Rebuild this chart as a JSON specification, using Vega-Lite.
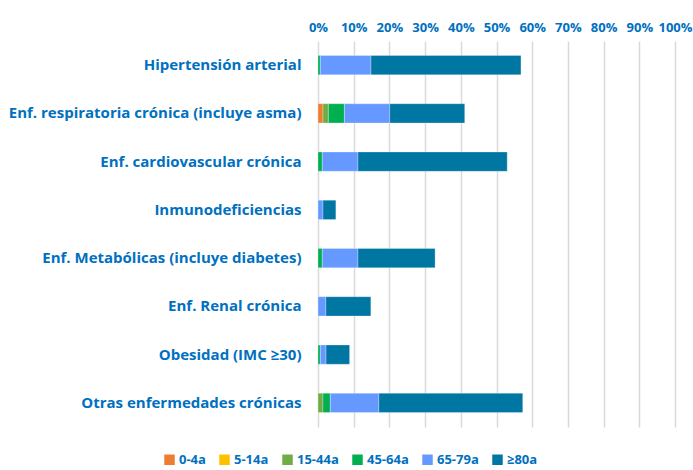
{
  "$schema": "https://vega.github.io/schema/vega-lite/v6.json",
  "width": 357,
  "height": 386,
  "autosize": {"type": "none"},
  "padding": {"left": 318, "top": 41, "right": 18, "bottom": 43},
  "background": "white",
  "config": {
    "view": {"stroke": null},
    "font": "Open Sans"
  },
  "data": {
    "values": [
      {"cat": "Hipertensión arterial", "age": "45-64a", "k": 4, "v": 0.65},
      {"cat": "Hipertensión arterial", "age": "65-79a", "k": 5, "v": 14.2},
      {"cat": "Hipertensión arterial", "age": "≥80a", "k": 6, "v": 42.0},
      {"cat": "Enf. respiratoria crónica (incluye asma)", "age": "0-4a", "k": 1, "v": 1.4},
      {"cat": "Enf. respiratoria crónica (incluye asma)", "age": "15-44a", "k": 3, "v": 1.5},
      {"cat": "Enf. respiratoria crónica (incluye asma)", "age": "45-64a", "k": 4, "v": 4.5},
      {"cat": "Enf. respiratoria crónica (incluye asma)", "age": "65-79a", "k": 5, "v": 12.7},
      {"cat": "Enf. respiratoria crónica (incluye asma)", "age": "≥80a", "k": 6, "v": 21.0},
      {"cat": "Enf. cardiovascular crónica ", "age": "45-64a", "k": 4, "v": 1.2},
      {"cat": "Enf. cardiovascular crónica ", "age": "65-79a", "k": 5, "v": 10.0},
      {"cat": "Enf. cardiovascular crónica ", "age": "≥80a", "k": 6, "v": 41.8},
      {"cat": "Inmunodeficiencias", "age": "65-79a", "k": 5, "v": 1.4},
      {"cat": "Inmunodeficiencias", "age": "≥80a", "k": 6, "v": 3.6},
      {"cat": "Enf. Metabólicas (incluye diabetes)", "age": "45-64a", "k": 4, "v": 1.2},
      {"cat": "Enf. Metabólicas (incluye diabetes)", "age": "65-79a", "k": 5, "v": 10.0},
      {"cat": "Enf. Metabólicas (incluye diabetes)", "age": "≥80a", "k": 6, "v": 21.6},
      {"cat": "Enf. Renal crónica", "age": "65-79a", "k": 5, "v": 2.2},
      {"cat": "Enf. Renal crónica", "age": "≥80a", "k": 6, "v": 12.6},
      {"cat": "Obesidad (IMC ≥30)", "age": "45-64a", "k": 4, "v": 0.65},
      {"cat": "Obesidad (IMC ≥30)", "age": "65-79a", "k": 5, "v": 1.6},
      {"cat": "Obesidad (IMC ≥30)", "age": "≥80a", "k": 6, "v": 6.6},
      {"cat": "Otras enfermedades crónicas", "age": "15-44a", "k": 3, "v": 1.4},
      {"cat": "Otras enfermedades crónicas", "age": "45-64a", "k": 4, "v": 2.05},
      {"cat": "Otras enfermedades crónicas", "age": "65-79a", "k": 5, "v": 13.6},
      {"cat": "Otras enfermedades crónicas", "age": "≥80a", "k": 6, "v": 40.3}
    ]
  },
  "mark": {"type": "bar", "stroke": "#ffffff", "strokeOpacity": 0.35, "strokeWidth": 0.8},
  "encoding": {
    "y": {
      "field": "cat",
      "type": "nominal",
      "sort": null,
      "scale": {"paddingInner": 0.6, "paddingOuter": 0.3},
      "axis": {
        "title": null,
        "domain": false,
        "ticks": false,
        "labelPadding": 17,
        "labelFontSize": 15,
        "labelFontWeight": "bold",
        "labelColor": "#0070C0",
        "labelLimit": 330
      }
    },
    "x": {
      "field": "v",
      "type": "quantitative",
      "stack": "zero",
      "scale": {"domain": [0, 100], "nice": false},
      "axis": {
        "orient": "top",
        "title": null,
        "values": [0, 10, 20, 30, 40, 50, 60, 70, 80, 90, 100],
        "labelExpr": "datum.value + '%'",
        "labelOverlap": false,
        "labelFlush": false,
        "domain": false,
        "ticks": false,
        "labelPadding": 7,
        "labelFontSize": 13,
        "labelFontWeight": "bold",
        "labelColor": "#0070C0",
        "grid": true,
        "gridColor": "#d9d9d9",
        "gridWidth": 1.5
      }
    },
    "color": {
      "field": "age",
      "type": "nominal",
      "scale": {
        "domain": ["0-4a", "5-14a", "15-44a", "45-64a", "65-79a", "≥80a"],
        "range": ["#ED7D31", "#FFC000", "#70AD47", "#00B050", "#6699FF", "#0077A3"]
      },
      "legend": {
        "title": null,
        "orient": "none",
        "direction": "horizontal",
        "legendX": -155,
        "legendY": 412,
        "symbolType": "square",
        "symbolSize": 110,
        "symbolStrokeWidth": 0,
        "labelFontSize": 13,
        "labelFontWeight": "bold",
        "labelColor": "#0070C0",
        "labelOffset": 3,
        "columnPadding": 12
      }
    },
    "order": {"field": "k", "type": "quantitative"}
  }
}
